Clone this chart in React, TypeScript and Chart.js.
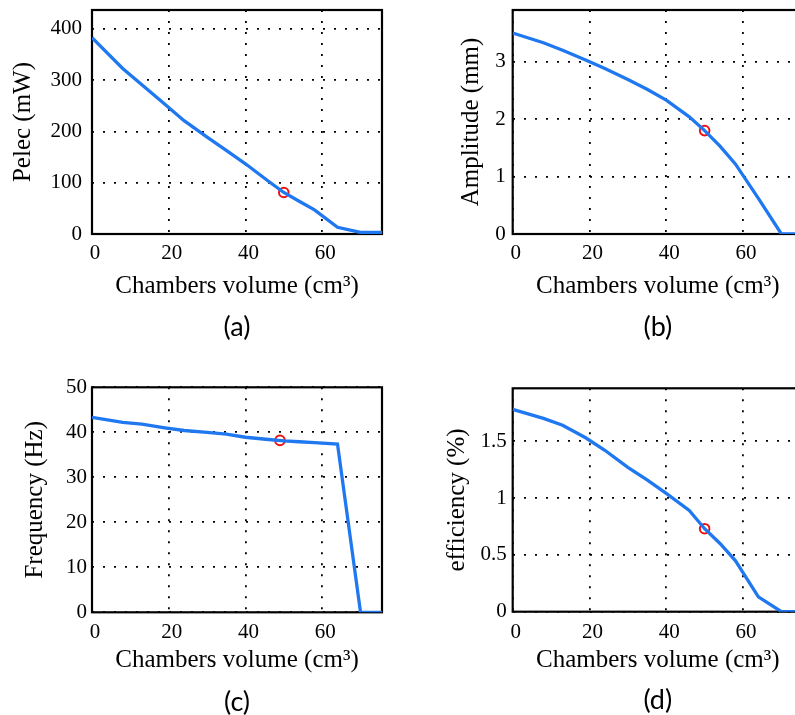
import React, { useEffect, useRef } from "react";
import { Chart, registerables } from "chart.js";

Chart.register(...registerables);

// ---------- data ----------
const volume = [0, 8, 13, 19, 24, 30, 35, 40, 46, 50, 54, 58, 64, 70, 75.6];
const pelec = [383, 323, 291, 253, 221, 189, 163, 137, 103, 81, 64, 47, 13, 3, 3];
const amplitude = [3.5, 3.33, 3.2, 3.03, 2.88, 2.69, 2.52, 2.33, 2.04, 1.8, 1.53, 1.22, 0.62, 0, 0];
const frequency = [43.3, 42.2, 41.8, 41.0, 40.4, 40.0, 39.6, 38.9, 38.4, 38.1, 37.9, 37.7, 37.4, 0, 0];
const efficiency = [1.78, 1.7, 1.64, 1.53, 1.42, 1.27, 1.16, 1.04, 0.89, 0.73, 0.6, 0.45, 0.13, 0, 0];

const pelecMarker = [50, 81];
const amplitudeMarker = [50, 1.8];
const frequencyMarker = [49, 38.2];
const efficiencyMarker = [50, 0.73];

const xTicks = [0, 20, 40, 60];
const xTickLabels = ["0", "20", "40", "60"];
const pelecTicks = [0, 100, 200, 300, 400];
const pelecTickLabels = ["0", "100", "200", "300", "400"];
const amplitudeTicks = [0, 1, 2, 3];
const amplitudeTickLabels = ["0", "1", "2", "3"];
const frequencyTicks = [0, 10, 20, 30, 40, 50];
const frequencyTickLabels = ["0", "10", "20", "30", "40", "50"];
const efficiencyTicks = [0, 0.5, 1, 1.5];
const efficiencyTickLabels = ["0", "0.5", "1", "1.5"];

const xTitle = "Chambers volume (cm³)";

// ---------- styles / layout ----------
const LINE_COLOR = "#1f78f0";
const MARKER_COLOR = "#ee1111";
const CW = 420;
const CH = 350;
const SERIF = "'Liberation Serif', 'Times New Roman', serif";

type Spec = {
  key: string;
  tag: string;
  yTitle: string;
  values: number[];
  marker: number[];
  yTicks: number[];
  yTickLabels: string[];
  yMax: number;
  px: number;
  py: number;
  l: number;
  t: number;
  r: number;
  b: number;
  tagY: number;
  xTitleY: number;
  xTickY: number;
  yTitleX: number;
  yGap: number;
};

const specs: Spec[] = [
  {
    key: "a", tag: "(a)", yTitle: "Pelec (mW)", values: pelec, marker: pelecMarker,
    yTicks: pelecTicks, yTickLabels: pelecTickLabels, yMax: 437,
    px: 0, py: 0, l: 92, t: 10, r: 382, b: 234, tagY: 327, xTitleY: 286, xTickY: 253, yTitleX: 23.3, yGap: 10,
  },
  {
    key: "b", tag: "(b)", yTitle: "Amplitude (mm)", values: amplitude, marker: amplitudeMarker,
    yTicks: amplitudeTicks, yTickLabels: amplitudeTickLabels, yMax: 3.9,
    px: 400, py: 0, l: 112.7, t: 10, r: 402.9, b: 234, tagY: 327, xTitleY: 286, xTickY: 253, yTitleX: 71.7, yGap: 7,
  },
  {
    key: "c", tag: "(c)", yTitle: "Frequency (Hz)", values: frequency, marker: frequencyMarker,
    yTicks: frequencyTicks, yTickLabels: frequencyTickLabels, yMax: 50,
    px: 0, py: 375, l: 92, t: 12.3, r: 382, b: 237.3, tagY: 327, xTitleY: 285.5, xTickY: 257.3, yTitleX: 35, yGap: 5,
  },
  {
    key: "d", tag: "(d)", yTitle: "efficiency (%)", values: efficiency, marker: efficiencyMarker,
    yTicks: efficiencyTicks, yTickLabels: efficiencyTickLabels, yMax: 1.965,
    px: 400, py: 375, l: 112.7, t: 13.3, r: 402.9, b: 236.7, tagY: 325, xTitleY: 285.7, xTickY: 257.5, yTitleX: 57, yGap: 6,
  },
];

const framePlugin = {
  id: "frame",
  beforeDatasetsDraw(chart: any) {
    const { ctx, chartArea } = chart;
    ctx.save();
    ctx.strokeStyle = "#000";
    ctx.lineWidth = 2.2;
    ctx.strokeRect(chartArea.left, chartArea.top, chartArea.right - chartArea.left, chartArea.bottom - chartArea.top);
    ctx.restore();
  },
};

function Panel({ spec }: { spec: Spec }) {
  const ref = useRef<HTMLCanvasElement | null>(null);
  useEffect(() => {
    if (!ref.current) return;
    const tagFont = 27;
    const tagLH = tagFont * 1.2;
    const padBottom = CH - (spec.tagY + tagLH / 2);
    const xAxisBottom = spec.tagY - tagLH / 2;
    const xAxisH = xAxisBottom - spec.b;
    const titleFont = 25;
    const titleLH = titleFont * 1.2;
    const tickFont = 21;
    const tickLH = tickFont * 1.2;

    const chart = new Chart(ref.current, {
      type: "line",
      data: {
        datasets: [
          {
            data: volume.map((v, i) => ({ x: v, y: spec.values[i] })),
            borderColor: LINE_COLOR,
            borderWidth: 3.3,
            pointRadius: 0,
            tension: 0,
            fill: false,
          },
          {
            data: [{ x: spec.marker[0], y: spec.marker[1] }],
            showLine: false,
            pointStyle: "circle",
            pointRadius: 4.8,
            pointBorderWidth: 2,
            pointBorderColor: MARKER_COLOR,
            pointBackgroundColor: "rgba(0,0,0,0)",
            clip: false,
          } as any,
        ],
      },
      options: {
        animation: false,
        responsive: false,
        events: [],
        layout: {
          padding: { left: 0, top: spec.t, right: CW - spec.r, bottom: padBottom },
        },
        plugins: {
          legend: { display: false },
          tooltip: { enabled: false },
          title: {
            display: true,
            text: spec.tag,
            position: "bottom",
            fullSize: false,
            padding: 0,
            color: "#000",
            font: { family: "Lato, 'Open Sans', sans-serif", size: tagFont, weight: "normal", lineHeight: 1.2 },
          },
        },
        scales: {
          x: {
            type: "linear",
            min: 0,
            max: 75.6,
            afterBuildTicks: (s: any) => {
              s.ticks = xTicks.map((v) => ({ value: v }));
            },
            afterFit: (s: any) => {
              s.height = xAxisH;
              s.paddingLeft = 0;
              s.paddingRight = 0;
              s.paddingTop = 0;
              s.paddingBottom = 0;
            },
            grid: { color: "#000", lineWidth: 1.8, drawTicks: false },
            border: { display: false, dash: [2, 9] },
            ticks: {
              autoSkip: false,
              maxRotation: 0,
              padding: spec.xTickY - spec.b - tickLH / 2,
              labelOffset: 3,
              color: "#000",
              font: { family: SERIF, size: tickFont, lineHeight: 1.2 },
              callback: (_v: any, i: number) => xTickLabels[i],
            },
            title: {
              display: true,
              text: xTitle,
              color: "#000",
              font: { family: SERIF, size: titleFont, lineHeight: 1.2 },
              padding: { top: 0, bottom: xAxisBottom - spec.xTitleY - titleLH / 2 },
            },
          },
          y: {
            type: "linear",
            min: 0,
            max: spec.yMax,
            afterBuildTicks: (s: any) => {
              s.ticks = spec.yTicks.map((v) => ({ value: v }));
            },
            afterFit: (s: any) => {
              s.width = spec.l;
              s.paddingLeft = 0;
              s.paddingRight = 0;
              s.paddingTop = 0;
              s.paddingBottom = 0;
            },
            grid: { color: "#000", lineWidth: 1.8, drawTicks: false },
            border: { display: false, dash: [2, 9] },
            ticks: {
              autoSkip: false,
              padding: spec.yGap,
              color: "#000",
              font: { family: SERIF, size: tickFont, lineHeight: 1.2 },
              callback: (_v: any, i: number) => spec.yTickLabels[i],
            },
            title: {
              display: true,
              text: spec.yTitle,
              color: "#000",
              font: { family: SERIF, size: titleFont, lineHeight: 1.2 },
              padding: { top: spec.yTitleX - titleLH / 2, bottom: 0 },
            },
          },
        },
      } as any,
      plugins: [framePlugin],
    });
    return () => chart.destroy();
  }, [spec]);

  return (
    <div style={{ position: "absolute", left: spec.px, top: spec.py, width: CW, height: CH }}>
      <canvas ref={ref} width={CW} height={CH} style={{ width: CW, height: CH, display: "block" }} />
    </div>
  );
}

export default function App() {
  return (
    <div
      style={{
        position: "fixed",
        left: 0,
        top: 0,
        width: 795,
        height: 715,
        overflow: "hidden",
        background: "#fff",
      }}
    >
      {specs.map((s) => (
        <Panel key={s.key} spec={s} />
      ))}
    </div>
  );
}
